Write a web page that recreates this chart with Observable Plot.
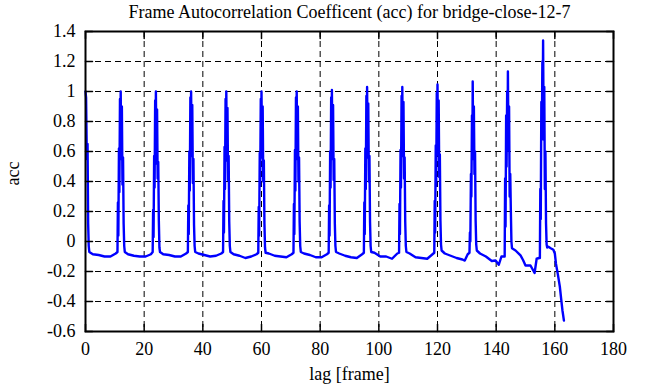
<!DOCTYPE html>
<html><head><meta charset="utf-8">
<script src="https://cdn.jsdelivr.net/npm/d3@7"></script>
<script src="https://cdn.jsdelivr.net/npm/@observablehq/plot@0.6"></script>
<style>body{margin:0;background:#fff} svg{display:block} svg text{font-family:"Liberation Serif",serif !important}</style>
</head><body><div id="chart"></div>
<script>
const lag = [
0,0.2,0.45,0.7,0.9,1.1,1.3, 2.5,4.5,6.5,8.5,10.3,
10.9,11.05,11.2,11.4,11.55,11.75,11.9,12,12.2,12.4,12.6,12.8,13,13.2,13.4, 14.5,16.5,18.5,20.5,22.3,
22.9,23.05,23.2,23.4,23.55,23.75,23.9,24,24.2,24.4,24.6,24.8,25,25.2,25.4, 26.5,28.5,30.5,32.5,34.3,
34.9,35.05,35.2,35.4,35.55,35.75,35.9,36,36.2,36.4,36.6,36.8,37,37.2,37.4, 38.5,40.5,42.5,44.5,46.3,
46.9,47.05,47.2,47.4,47.55,47.75,47.9,48,48.2,48.4,48.6,48.8,49,49.2,49.4, 50.5,52.5,54.5,56.5,58.3,
58.9,59.05,59.2,59.4,59.55,59.75,59.9,60,60.2,60.4,60.6,60.8,61,61.2,61.4, 62.5,64.5,66.5,68.5,70.3,
70.9,71.05,71.2,71.4,71.55,71.75,71.9,72,72.2,72.4,72.6,72.8,73,73.2,73.4, 74.5,76.5,78.5,80.5,82.3,
82.9,83.05,83.2,83.4,83.55,83.75,83.9,84,84.2,84.4,84.6,84.8,85,85.2,85.4, 86.5,88.5,90.5,92.5,94.3,
94.9,95.05,95.2,95.4,95.55,95.75,95.9,96,96.2,96.4,96.6,96.8,97,97.2,97.4, 98.5,100.5,102.5,104.5,106.3,
106.9,107.05,107.2,107.4,107.55,107.75,107.9,108,108.2,108.4,108.6,108.8,109,109.2,109.4, 110.5,112.5,114.5,116.5,118.3,
118.9,119.05,119.2,119.4,119.55,119.75,119.9,120,120.2,120.4,120.6,120.8,121,121.2,121.4, 122.5,124.5,126.5,128.5,129.3,130.3,
130.9,131.05,131.2,131.4,131.55,131.75,131.9,132,132.2,132.4,132.6,132.8,133,133.2,133.4, 134.5,136.5,138.5,139.8,140.9,141.8,142.5,
142.9,143.05,143.2,143.4,143.55,143.75,143.9,144,144.2,144.4,144.6,144.8,145,145.2,145.4, 146.6,148.3,149.2,150,151.7,153.1,153.8,154.6,
154.9,155.05,155.2,155.4,155.55,155.75,155.9,156,156.2,156.4,156.6,156.8,157,157.2,157.4,
157.8,158.6,159.5,160,160.4,161,161.7,162.2,162.6,163.1
];
const acc = [
1,0.96,0.55,0.65,0.12,-0.03,-0.07, -0.085,-0.09,-0.1,-0.1,-0.08,
-0.07,0.26,0.04,0.62,0.33,0.95,0.72,1.0,0.55,0.9,0.38,0.56,0.12,-0.03,-0.07, -0.085,-0.095,-0.1,-0.1,-0.085,
-0.07,0.21,0.03,0.57,0.36,0.94,0.78,1.0,0.52,0.88,0.42,0.53,0.14,-0.04,-0.07, -0.085,-0.09,-0.1,-0.1,-0.08,
-0.07,0.24,0.05,0.6,0.34,0.96,0.74,1.0,0.57,0.91,0.39,0.55,0.11,-0.03,-0.07, -0.08,-0.09,-0.1,-0.095,-0.08,
-0.07,0.27,0.06,0.63,0.35,0.95,0.73,1.0,0.54,0.89,0.41,0.57,0.13,-0.03,-0.07, -0.085,-0.095,-0.11,-0.1,-0.085,
-0.075,0.23,0.04,0.59,0.37,0.95,0.76,1.0,0.56,0.9,0.4,0.54,0.12,-0.04,-0.075, -0.08,-0.095,-0.1,-0.105,-0.085,
-0.075,0.25,0.05,0.61,0.34,0.96,0.75,1.0,0.55,0.9,0.4,0.56,0.13,-0.03,-0.07, -0.08,-0.09,-0.105,-0.105,-0.085,
-0.075,0.24,0.04,0.6,0.36,0.96,0.76,1.01,0.55,0.91,0.41,0.55,0.12,-0.03,-0.07, -0.08,-0.095,-0.105,-0.11,-0.085,
-0.075,0.26,0.05,0.62,0.35,0.97,0.77,1.03,0.56,0.92,0.4,0.57,0.13,-0.03,-0.07, -0.075,-0.1,-0.1,-0.115,-0.08,
-0.075,0.25,0.05,0.61,0.36,0.97,0.76,1.03,0.57,0.93,0.42,0.56,0.13,-0.03,-0.07, -0.08,-0.105,-0.11,-0.115,-0.085,
-0.075,0.27,0.06,0.64,0.37,0.99,0.78,1.047,0.58,0.94,0.43,0.58,0.14,-0.02,-0.06, -0.08,-0.095,-0.11,-0.12,-0.127,-0.085,
-0.075,0.06,0.0,0.45,0.3,0.84,0.6,1.067,0.55,0.9,0.45,0.6,0.14,-0.02,-0.06, -0.08,-0.1,-0.13,-0.127,-0.155,-0.1,-0.1,
-0.1,0.42,0.1,0.84,0.5,1.0,0.75,1.133,0.61,0.9,0.3,0.45,0.21,0.0,-0.045, -0.06,-0.093,-0.125,-0.16,-0.16,-0.21,-0.115,-0.11,
-0.11,0.35,0.15,0.93,0.68,1.2,1.03,1.34,0.68,1.03,0.35,0.6,0.12,-0.02,-0.04,
-0.035,-0.045,-0.055,-0.08,-0.15,-0.216,-0.3,-0.39,-0.46,-0.527
];
const xTicks = [0,20,40,60,80,100,120,140,160,180];
const yTicks = [-0.6,-0.4,-0.2,0,0.2,0.4,0.6,0.8,1,1.2,1.4];
const title = "Frame Autocorrelation Coefficent (acc) for bridge-close-12-7";
const xLabel = "lag [frame]";
const yLabel = "acc";

const data = lag.map((l, i) => ({lag: l, acc: acc[i]}));
const tickShape = {draw(ctx, l) { ctx.moveTo(0, 0); ctx.lineTo(0, -l); }};
const tickOpts = {shape: tickShape, length: 7, anchor: "start", stroke: "#000", strokeWidth: 1.5};
const serif = "Liberation Serif";

const chart = Plot.plot({
  width: 661, height: 387,
  marginLeft: 85, marginRight: 48, marginTop: 31, marginBottom: 56,
  style: {fontFamily: serif, fontSize: "18px", background: "#fff", color: "#000"},
  x: {domain: [0, 180]},
  y: {domain: [-0.6, 1.4]},
  marks: [
    Plot.gridX(xTicks, {stroke: "#000", strokeOpacity: 1, strokeDasharray: "6,4", strokeWidth: 1}),
    Plot.gridY(yTicks, {stroke: "#000", strokeOpacity: 1, strokeDasharray: "6,4", strokeWidth: 1}),
    Plot.line(data, {x: "lag", y: "acc", stroke: "#0000ff", strokeWidth: 2.4}),
    Plot.vector(xTicks, {...tickOpts, x: d => d, frameAnchor: "bottom", rotate: 0}),
    Plot.vector(xTicks, {...tickOpts, x: d => d, frameAnchor: "top", rotate: 180}),
    Plot.vector(yTicks, {...tickOpts, y: d => d, frameAnchor: "left", rotate: 90}),
    Plot.vector(yTicks, {...tickOpts, y: d => d, frameAnchor: "right", rotate: -90}),
    Plot.frame({stroke: "#000", strokeWidth: 2}),
    Plot.axisX(xTicks, {tickSize: 0, tickPadding: 11, label: null, tickFormat: d => String(d), fontSize: 18, fontFamily: serif}),
    Plot.axisY(yTicks, {tickSize: 0, tickPadding: 10, label: null, tickFormat: d => String(+d.toFixed(1)), fontSize: 18, fontFamily: serif}),
    Plot.text([title], {frameAnchor: "top", lineAnchor: "middle", dy: -19, fontSize: 18, fontFamily: serif}),
    Plot.text([xLabel], {frameAnchor: "bottom", lineAnchor: "middle", dy: 43, fontSize: 18, fontFamily: serif}),
    Plot.text([yLabel], {frameAnchor: "left", lineAnchor: "middle", dx: -72, dy: 4, rotate: -90, fontSize: 18, fontFamily: serif})
  ]
});
document.getElementById("chart").append(chart);
</script>
</body></html>
